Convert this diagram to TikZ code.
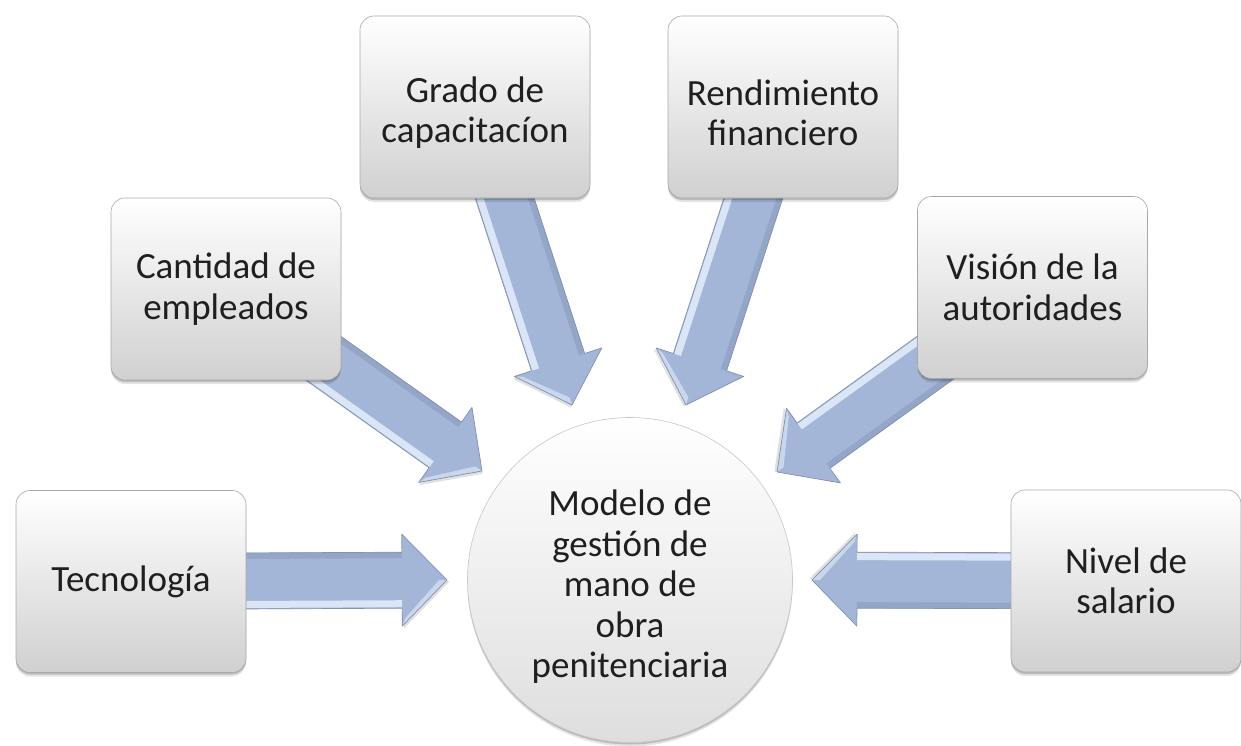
\documentclass[tikz,border=0pt]{standalone}
\usepackage{fontspec}
\setmainfont{Carlito}
\usetikzlibrary{calc,shadows}
\definecolor{aBody}{HTML}{A3B6D8}
\definecolor{aHi}{HTML}{DAE5F6}
\definecolor{aDark}{HTML}{93A6C8}
\definecolor{aEdge}{HTML}{8292B2}
\definecolor{boxBot}{HTML}{D0D0D0}
\definecolor{boxEdge}{HTML}{A8A8A8}
\pgfdeclarelayer{bg}
\pgfsetlayers{bg,main}
\newcommand\lowerstrut{\rule{0pt}{37pt}}
\newcommand\fatarrow[2]{%
  \pgfpointdiff{\pgfpointanchor{#1}{center}}{\pgfpointanchor{#2}{center}}%
  \pgfgetlastxy{\fadx}{\fady}%
  \pgfmathsetmacro\faAng{atan2(\fady,\fadx)}%
  \pgfmathsetmacro\faLen{veclen(\fadx,\fady)}%
  \pgfmathsetmacro\faB{\faLen-45}%
  \begin{scope}[shift={(#1)}, rotate=\faAng, x=1pt, y=1pt]
    \fill[black, opacity=0.12] ({\faB+2},-48) -- ({\faLen+2},-2) -- ({\faB+2},44) -- cycle;
    \fill[aBody] (0,-28) -- (\faB,-28) -- (\faB,-46) -- (\faLen,0) -- (\faB,46) -- (\faB,28) -- (0,28) -- cycle;
    \fill[aDark] (0,28) -- (\faB,28) -- (\faB,22) -- (0,22) -- cycle;
    \fill[aHi] (0,-27) -- (\faB,-27) -- (\faB,-20) -- (0,-20) -- cycle;
    \fill[aHi!70!aBody] (\faB,-46) -- (\faLen,0) -- ({\faLen-8},0) -- ({\faB+3},-38) -- cycle;
    \draw[aEdge, line width=0.7pt, line join=round] (0,-28) -- (\faB,-28) -- (\faB,-46) -- (\faLen,0) -- (\faB,46) -- (\faB,28) -- (0,28);
  \end{scope}}
\begin{document}
\begin{tikzpicture}[x=1pt,y=-1pt,
  softshadow/.style={drop shadow={shadow xshift=0pt, shadow yshift=-4pt, opacity=0.10, fill=black},
    drop shadow={shadow xshift=0pt, shadow yshift=-2pt, opacity=0.18, fill=black}},
  box/.style={rectangle, rounded corners=14pt, minimum width=230pt, minimum height=182pt,
    top color=white, bottom color=boxBot, draw=boxEdge, line width=0.6pt,
    align=center, text=black!88, font=\fontsize{37}{40.5}\selectfont, softshadow},
  hub/.style={circle, minimum size=325pt, inner sep=0pt, top color=white, bottom color=black!13,
    draw=black!22, line width=0.6pt, softshadow},
  hubtext/.style={align=center, text=black!88, font=\fontsize{37}{40.5}\selectfont}]
\useasboundingbox (0,0) rectangle (1241,746);
\begin{pgfonlayer}{bg}
  \fill[white] (0,0) rectangle (1241,746);
\end{pgfonlayer}
% boxes
\node[box] (tec)   at (131,581.5)  {Tecnología};
\node[box] (cant)  at (226,289)    {Cantidad de\\empleados};
\node[box] (grado) at (475,107)    {\lowerstrut Grado de\\capacitacíon};
\node[box] (rend)  at (783,107)    {\lowerstrut Rendimiento\\financiero};
\node[box] (vis)   at (1032.5,287.5) {Visión de la\\autoridades};
\node[box] (niv)   at (1126,581)   {Nivel de\\salario};
% hub
\node[hub] (hub) at (630,580) {};
\node[hubtext] (hublbl) at (630,587) {Modelo de\\gestión de\\mano de\\obra\\penitenciaria};
% arrow tips
\coordinate (tTec)   at (447,580);
\coordinate (tCant)  at (482,471);
\coordinate (tGrado) at (572,405);
\coordinate (tRend)  at (686,405);
\coordinate (tVis)   at (777,472);
\coordinate (tNiv)   at (812,580);
\begin{pgfonlayer}{bg}
  \fatarrow{tec}{tTec}
  \fatarrow{cant}{tCant}
  \fatarrow{grado}{tGrado}
  \fatarrow{rend}{tRend}
  \fatarrow{vis}{tVis}
  \fatarrow{niv}{tNiv}
\end{pgfonlayer}
\end{tikzpicture}
\end{document}
